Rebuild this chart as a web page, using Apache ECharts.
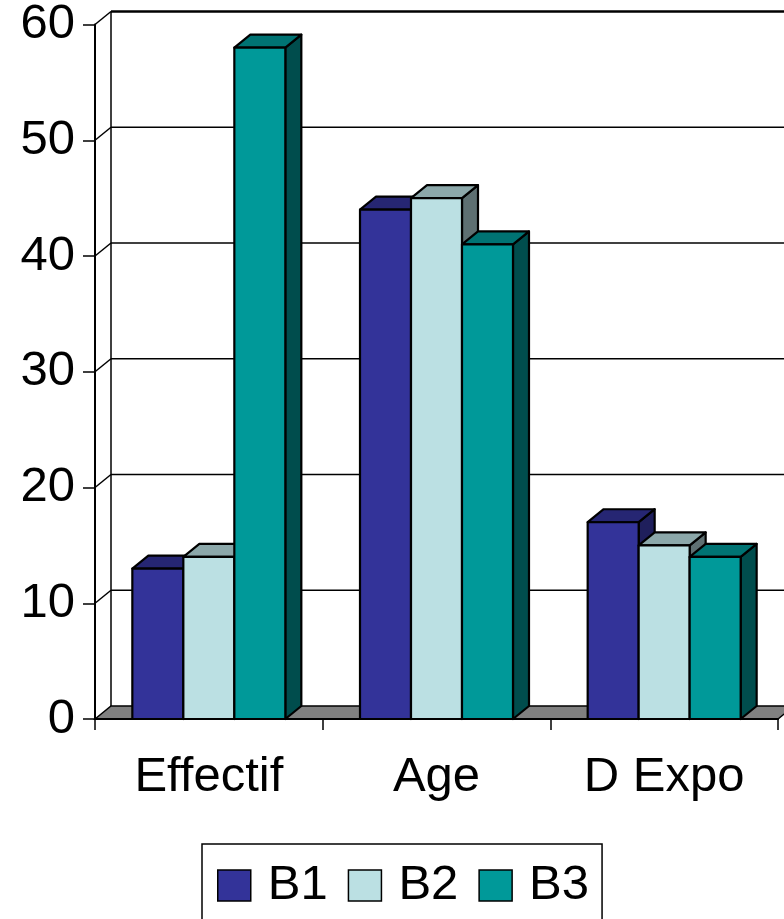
<!DOCTYPE html>
<html>
<head>
<meta charset="utf-8">
<script src="https://cdn.jsdelivr.net/npm/echarts@6/dist/echarts.min.js"></script>
<style>
  html, body { margin: 0; padding: 0; background: #fff; }
  #chart { width: 784px; height: 919px; }
</style>
</head>
<body>
<div id="chart"></div>
<script>
// Categories, series values and axis ticks
const categories = ['Effectif', 'Age', 'D Expo'];
const seriesNames = ['B1', 'B2', 'B3'];
const valuesB1 = [13, 44, 17];
const valuesB2 = [14, 45, 15];
const valuesB3 = [58, 41, 14];
const yTicks = [0, 10, 20, 30, 40, 50, 60];

// Face colours per series: front, top, side
const faceColors = [
  { front: '#333399', top: '#262673', side: '#1f1f5c' },
  { front: '#bbe0e3', top: '#8ca8aa', side: '#5e7072' },
  { front: '#009999', top: '#007373', side: '#004d4d' }
];

// Depth of the 3D projection (pixels)
const DX = 16, DY = -13;
const BAR_FRAC = 0.224;
const FONT = "'Liberation Sans', Arial, sans-serif";

const chart = echarts.init(document.getElementById('chart'), null, { renderer: 'canvas' });

// Back wall grid lines, side-wall connectors and the grey floor
function renderWalls(params, api) {
  const v = api.value(1);
  const cs = params.coordSys;
  const p = api.coord([0, v]);
  const y = p[1];
  const x0 = cs.x, x1 = cs.x + cs.width;
  const children = [];
  if (v === 0) {
    children.push({
      type: 'polygon',
      shape: { points: [[x0, y], [x0 + DX, y + DY], [x1 + DX, y + DY], [x1, y]] },
      style: { fill: '#808080', stroke: '#000', lineWidth: 1.5 }
    });
    // left edge of the back wall
    children.push({
      type: 'line',
      shape: { x1: x0 + DX, y1: cs.y + DY, x2: x0 + DX, y2: y + DY },
      style: { stroke: '#000', lineWidth: 1.5 }
    });
  } else {
    children.push({
      type: 'line',
      shape: { x1: x0 + DX, y1: y + DY, x2: x1 + DX, y2: y + DY },
      style: { stroke: '#000', lineWidth: v === 60 ? 2.5 : 1.6 }
    });
    children.push({
      type: 'line',
      shape: { x1: x0, y1: y, x2: x0 + DX, y2: y + DY },
      style: { stroke: '#000', lineWidth: 1.5 }
    });
  }
  return { type: 'group', children: children };
}

// 3D column: side face, top face, front face
function makeBarRenderer(k) {
  return function (params, api) {
    const cat = api.value(0), val = api.value(1);
    const base = api.coord([cat, 0]);
    const top = api.coord([cat, val]);
    const band = api.size([1, 0])[0];
    const bw = band * BAR_FRAC;
    const xa = base[0] + (k - 1.5) * bw;
    const xb = xa + bw;
    const yt = top[1], yb = base[1];
    const c = faceColors[k];
    const st = { stroke: '#000', lineWidth: 2.2, lineJoin: 'round' };
    return {
      type: 'group',
      children: [
        { type: 'polygon', shape: { points: [[xb, yt], [xb + DX, yt + DY], [xb + DX, yb + DY], [xb, yb]] },
          style: Object.assign({ fill: c.side }, st) },
        { type: 'polygon', shape: { points: [[xa, yt], [xa + DX, yt + DY], [xb + DX, yt + DY], [xb, yt]] },
          style: Object.assign({ fill: c.top }, st) },
        { type: 'rect', shape: { x: xa, y: yt, width: bw, height: yb - yt },
          style: Object.assign({ fill: c.front }, st) }
      ]
    };
  };
}

const seriesValues = [valuesB1, valuesB2, valuesB3];

const series = [{
  name: 'walls',
  type: 'custom',
  renderItem: renderWalls,
  encode: { x: 0, y: 1 },
  data: yTicks.map(v => [0, v]),
  silent: true,
  z: 1
}];

seriesNames.forEach((name, k) => {
  series.push({
    name: name,
    type: 'custom',
    renderItem: makeBarRenderer(k),
    encode: { x: 0, y: 1 },
    itemStyle: { color: faceColors[k].front },
    data: seriesValues[k].map((v, i) => [i, v]),
    z: 2
  });
});

chart.setOption({
  animation: false,
  backgroundColor: '#fff',
  grid: { left: 95, top: 24, right: 6, bottom: 200, containLabel: false },
  xAxis: {
    type: 'category',
    data: categories,
    boundaryGap: true,
    z: 5,
    axisLine: { show: true, lineStyle: { color: '#000', width: 2 } },
    axisTick: { show: true, length: 11, lineStyle: { color: '#000', width: 1.5 } },
    axisLabel: { color: '#000', fontSize: 49, fontFamily: FONT, margin: 34, interval: 0 },
    splitLine: { show: false }
  },
  yAxis: {
    type: 'value',
    min: 0,
    max: 60,
    interval: 10,
    z: 5,
    axisLine: { show: true, lineStyle: { color: '#000', width: 2 } },
    axisTick: { show: true, length: 12, lineStyle: { color: '#000', width: 1.5 } },
    axisLabel: { color: '#000', fontSize: 49, fontFamily: FONT, margin: 20 },
    splitLine: { show: false }
  },
  legend: {
    data: seriesNames,
    left: 202,
    top: 844,
    orient: 'horizontal',
    icon: 'rect',
    itemWidth: 33,
    itemHeight: 31,
    itemGap: 20,
    padding: [17, 13, 40, 15],
    borderColor: '#000',
    borderWidth: 1.5,
    backgroundColor: '#fff',
    itemStyle: { borderColor: '#000', borderWidth: 1.5 },
    textStyle: { color: '#000', fontSize: 49, fontFamily: FONT, lineHeight: 49, padding: [0, 0, 0, 12] }
  },
  series: series
});
</script>
</body>
</html>
